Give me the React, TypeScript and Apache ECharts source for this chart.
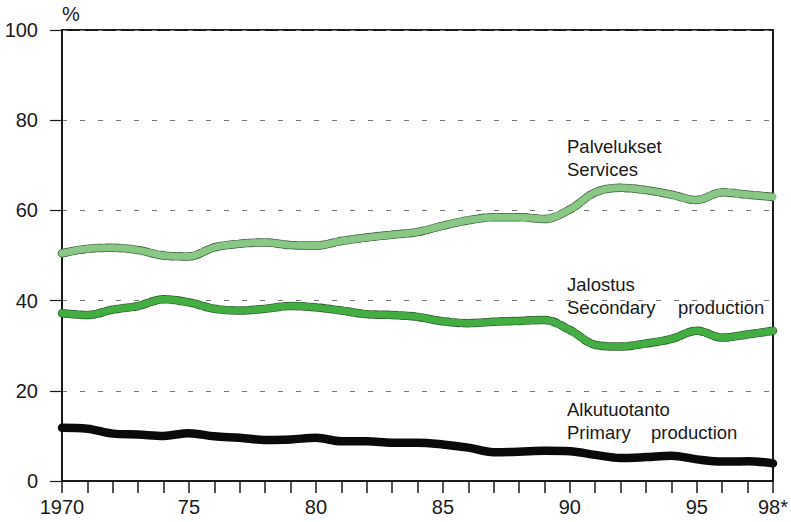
import React, { useEffect, useRef } from "react";
import * as echarts from "echarts";

const years = [1970, 1971, 1972, 1973, 1974, 1975, 1976, 1977, 1978, 1979, 1980, 1981, 1982, 1983, 1984, 1985, 1986, 1987, 1988, 1989, 1990, 1991, 1992, 1993, 1994, 1995, 1996, 1997, 1998];
const services = [50.5, 51.5, 51.7, 51.2, 50.0, 49.8, 51.8, 52.6, 52.9, 52.3, 52.2, 53.2, 54.0, 54.6, 55.2, 56.6, 57.8, 58.5, 58.5, 58.1, 60.2, 64.0, 65.0, 64.5, 63.5, 62.3, 64.0, 63.5, 63.0];
const secondary = [37.2, 36.8, 38.0, 38.8, 40.3, 39.6, 38.2, 37.8, 38.2, 38.8, 38.5, 37.8, 37.0, 36.8, 36.4, 35.4, 35.0, 35.3, 35.5, 35.7, 33.5, 30.2, 29.8, 30.5, 31.5, 33.3, 31.8, 32.5, 33.3];
const primary = [11.8, 11.6, 10.5, 10.3, 10.0, 10.6, 9.9, 9.6, 9.1, 9.2, 9.6, 8.8, 8.8, 8.5, 8.5, 8.1, 7.4, 6.4, 6.5, 6.7, 6.6, 5.8, 5.1, 5.3, 5.6, 4.8, 4.3, 4.4, 3.9];
const yTicks = [0, 20, 40, 60, 80, 100];

const pairs = (vals: number[]) => years.map((y, i) => [y, vals[i]]);

export default function App() {
  const ref = useRef<HTMLDivElement>(null);
  useEffect(() => {
    document.body.style.margin = "0";
    const chart = echarts.init(ref.current!, null, { renderer: "svg" });
    const font = "'Liberation Sans', Arial, Helvetica, sans-serif";
    const textColor = "#1a1a1a";
    const lineSeries = (name: string, vals: number[], color: string, width: number, z: number, dashed = false) => ({
      name,
      type: "line",
      data: pairs(vals),
      smooth: 0.35,
      symbol: "none",
      z,
      lineStyle: { color, width, cap: "round", join: "round", type: dashed ? [6, 3] : "solid" },
    });
    chart.setOption({
      animation: false,
      backgroundColor: "#ffffff",
      grid: { left: 62, right: 15, top: 30, bottom: 41, show: true, borderColor: "#1a1a1a", borderWidth: 2, backgroundColor: "transparent" },
      xAxis: {
        type: "value",
        min: 1970,
        max: 1998,
        interval: 1,
        axisLine: { show: true, lineStyle: { color: "#1a1a1a", width: 2 } },
        axisTick: { show: true, inside: false, length: 12, lineStyle: { color: "#1a1a1a", width: 1.5 } },
        splitLine: { show: false },
        axisLabel: {
          margin: 16,
          fontSize: 20,
          fontFamily: font,
          color: textColor,
          showMinLabel: true,
          showMaxLabel: true,
          formatter: (v: number) => {
            if (v === 1970) return "1970";
            if (v === 1998) return "98*";
            if (v % 5 === 0) return String(v).slice(2);
            return "";
          },
        },
      },
      yAxis: {
        type: "value",
        min: yTicks[0],
        max: yTicks[yTicks.length - 1],
        interval: 20,
        axisLine: { show: true, lineStyle: { color: "#1a1a1a", width: 2 } },
        axisTick: { show: true, inside: false, length: 12, lineStyle: { color: "#1a1a1a", width: 1.2 } },
        splitLine: { show: true, lineStyle: { color: "#777", width: 1, type: [5, 13] } },
        axisLabel: { margin: 24, fontSize: 20, fontFamily: font, color: textColor },
      },
      series: [
        lineSeries("Services outline", services, "#3f5f3f", 8.5, 2, true),
        lineSeries("Palvelukset Services", services, "#88c884", 7, 3),
        lineSeries("Secondary outline", secondary, "#2f5a2f", 8.5, 2, true),
        lineSeries("Jalostus Secondary production", secondary, "#42ae42", 7, 3),
        lineSeries("Alkutuotanto Primary production", primary, "#0a0a0a", 8.5, 3),
      ],
      graphic: [
        { type: "text", left: 62, top: 4, style: { text: "%", fontSize: 20, fontFamily: font, fill: textColor } },
        { type: "text", left: 567, top: 137, style: { text: "Palvelukset", fontSize: 18.5, fontFamily: font, fill: textColor } },
        { type: "text", left: 567, top: 160, style: { text: "Services", fontSize: 18.5, fontFamily: font, fill: textColor } },
        { type: "text", left: 567, top: 275, style: { text: "Jalostus", fontSize: 18.5, fontFamily: font, fill: textColor } },
        { type: "text", left: 567, top: 298, style: { text: "Secondary", fontSize: 18.5, fontFamily: font, fill: textColor } },
        { type: "text", left: 678, top: 298, style: { text: "production", fontSize: 18.5, fontFamily: font, fill: textColor } },
        { type: "text", left: 567, top: 400, style: { text: "Alkutuotanto", fontSize: 18.5, fontFamily: font, fill: textColor } },
        { type: "text", left: 567, top: 423, style: { text: "Primary", fontSize: 18.5, fontFamily: font, fill: textColor } },
        { type: "text", left: 651, top: 423, style: { text: "production", fontSize: 18.5, fontFamily: font, fill: textColor } },
      ],
    });
    return () => chart.dispose();
  }, []);
  return <div ref={ref} style={{ width: 791, height: 522 }} />;
}
